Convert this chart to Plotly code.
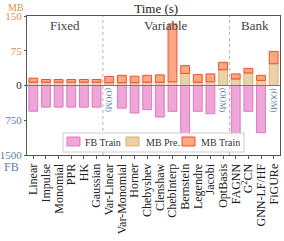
import plotly.graph_objects as go

categories = ["Linear", "Impulse", "Monomial", "PPR", "HK", "Gaussian",
              "Var-Linear", "Var-Monomial", "Horner", "Chebyshev", "Clenshaw",
              "ChebInterp", "Bernstein", "Legendre", "Jacobi", "OptBasis",
              "FAGNN", "G<sup>2</sup>CN", "GNN-LF/HF", "FiGURe"]
mb_pre = [7, 7, 7, 7, 7, 7, 6, 6, 6, 7, 7, 8, 26, 7, 8, 34, 14, 27, 11, 47]
mb_train = [9, 6, 6, 6, 6, 6, 13.5, 16, 14, 15, 16, 125, 17, 16.5, 17, 16, 11, 10, 11, 26.5]
fb_train = [555, 467, 467, 467, 467, 467, None, 490, 593, 521, 680, 557, 1114,
            557, 608, None, 1095, 557, 1020, None]
groups = ["Fixed", "Variable", "Bank"]
group_sizes = [6, 10, 4]
y_ticks = [150, 75, 0, 750, 1500]
legend_names = ["FB Train", "MB Pre.", "MB Train"]

FONT = "Liberation Serif"
MB_COL = "#D9904A"
FB_COL = "#5B7FA6"
FILLS = ["rgba(227,119,194,0.65)", "rgba(222,178,112,0.6)", "rgba(255,130,80,0.7)"]
EDGES = ["#E377C2", "rgba(222,170,100,0.9)", "#E8552A"]

# plot area geometry in pixels (for manual legend placement)
L, R, T, B, W, H = 27, 4, 16, 86, 284, 241
PW, PH = W - L - R, H - T - B


def px2paper(px, py):
    return (px - L) / PW, (H - B - py) / PH


x = list(range(len(categories)))
fb_plot = [(-v / 10 if v is not None else None) for v in fb_train]

fig = go.Figure()
for name, yv, fc, ec in zip(legend_names, [fb_plot, mb_pre, mb_train], FILLS, EDGES):
    fig.add_bar(x=x, y=yv, name=name, width=0.7,
                marker=dict(color=fc, line=dict(color=ec, width=1)))

tickvals = [150, 75, 0, -75, -150]
ticktext = [f'<span style="color:{MB_COL}">{y_ticks[0]}</span>',
            f'<span style="color:{MB_COL}">{y_ticks[1]}</span>',
            f'{y_ticks[2]}',
            f'<span style="color:{FB_COL}">{y_ticks[3]}</span>',
            f'<span style="color:{FB_COL}">{y_ticks[4]}</span>']

shapes = []
annotations = []
start = 0
for g, n in zip(groups, group_sizes):
    center = start + (n - 1) / 2
    annotations.append(dict(x=center, y=1.0, xref="x", yref="paper", text=g,
                            showarrow=False, yanchor="top",
                            font=dict(family=FONT, size=13, color="#444")))
    if start + n < len(categories):
        shapes.append(dict(type="line", x0=start + n - 0.5, x1=start + n - 0.5,
                           y0=0, y1=1, xref="x", yref="paper",
                           line=dict(color="#b0b0b0", width=1, dash="dot")))
    start += n

shapes.append(dict(type="line", x0=0, x1=1, xref="paper", y0=0, y1=0, yref="y",
                   line=dict(color="#777777", width=1.2)))

for i, v in enumerate(fb_train):
    if v is None:
        annotations.append(dict(x=i, y=-1.5, xref="x", yref="y", text="(OOM)",
                                showarrow=False, textangle=90, yanchor="top",
                                font=dict(family=FONT, size=8, color=FB_COL)))

annotations.append(dict(x=-0.005, y=1.0, xref="paper", yref="paper", text="MB",
                        showarrow=False, xanchor="right", yanchor="bottom", yshift=1,
                        font=dict(family=FONT, size=10, color=MB_COL)))
annotations.append(dict(x=-0.025, y=-0.02, xref="paper", yref="paper", text="FB",
                        showarrow=False, xanchor="right", yanchor="top",
                        font=dict(family=FONT, size=12, color=FB_COL)))

# manual legend
bx0, by0 = px2paper(63, 152)
bx1, by1 = px2paper(244, 133)
shapes.append(dict(type="rect", xref="paper", yref="paper", x0=bx0, x1=bx1, y0=by0, y1=by1,
                   line=dict(color="#cccccc", width=1), fillcolor="rgba(255,255,255,0.9)"))
swatch_x = [67, 126, 182]
text_x = [83, 144, 199]
for sx, tx, name, fc, ec in zip(swatch_x, text_x, legend_names, FILLS, EDGES):
    sx0, sy0 = px2paper(sx, 146)
    sx1, sy1 = px2paper(sx + 13, 137)
    shapes.append(dict(type="rect", xref="paper", yref="paper", x0=sx0, x1=sx1, y0=sy0, y1=sy1,
                       line=dict(color=ec, width=1), fillcolor=fc))
    tx0, ty0 = px2paper(tx, 142)
    annotations.append(dict(x=tx0, y=ty0, xref="paper", yref="paper", text=name,
                            showarrow=False, xanchor="left", yanchor="middle",
                            font=dict(family=FONT, size=10, color="#333")))

fig.update_layout(
    width=W, height=H,
    margin=dict(l=L, r=R, t=T, b=B, autoexpand=False),
    barmode="relative",
    plot_bgcolor="white", paper_bgcolor="white",
    font=dict(family=FONT, size=12, color="#222"),
    title=dict(text="Time (s)", x=0.55, xanchor="center", y=0.985, yanchor="top",
               font=dict(family=FONT, size=13, color="#222")),
    showlegend=False,
    shapes=shapes, annotations=annotations,
)
fig.update_xaxes(tickmode="array", tickvals=x, ticktext=categories, tickangle=-90,
                 range=[-0.5, len(categories) - 0.5], showline=True, mirror=True,
                 linecolor="#555", linewidth=1, ticks="outside", ticklen=3,
                 tickcolor="#555", showgrid=False, zeroline=False, automargin=False,
                 tickfont=dict(family=FONT, size=12, color="#222"))
fig.update_yaxes(tickmode="array", tickvals=tickvals, ticktext=ticktext,
                 range=[-150, 150], showline=True, mirror=True, linecolor="#555",
                 linewidth=1, ticks="outside", ticklen=2, tickcolor="#555",
                 showgrid=False, zeroline=False, automargin=False,
                 tickfont=dict(family=FONT, size=11, color="#222"))

fig.write_html("out.html", config={"displayModeBar": False},
               post_script="document.body.style.margin='0';document.body.style.padding='0';")
